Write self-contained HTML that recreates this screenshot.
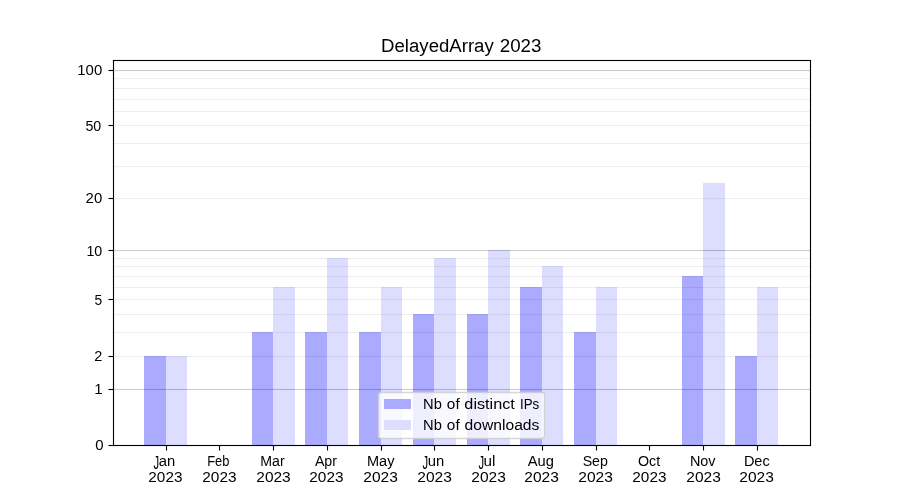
<!DOCTYPE html>
<html><head><meta charset="utf-8"><title>DelayedArray 2023</title>
<style>
html,body{margin:0;padding:0;background:#fff;}
body{width:900px;height:500px;overflow:hidden;}
svg{display:block;position:absolute;left:0;top:0;}
text{font-family:"Liberation Sans",sans-serif;fill:#000;}
</style></head><body>
<svg width="900" height="500" viewBox="0 0 900 500">
<rect x="0" y="0" width="900" height="500" fill="#ffffff"/>
<g shape-rendering="crispEdges">
<rect x="144" y="356" width="22" height="89" fill="#aaaaff"/>
<rect x="166" y="356" width="21" height="89" fill="#ddddff"/>
<rect x="252" y="332" width="21" height="113" fill="#aaaaff"/>
<rect x="273" y="287" width="22" height="158" fill="#ddddff"/>
<rect x="305" y="332" width="22" height="113" fill="#aaaaff"/>
<rect x="327" y="258" width="21" height="187" fill="#ddddff"/>
<rect x="359" y="332" width="22" height="113" fill="#aaaaff"/>
<rect x="381" y="287" width="21" height="158" fill="#ddddff"/>
<rect x="413" y="314" width="21" height="131" fill="#aaaaff"/>
<rect x="434" y="258" width="22" height="187" fill="#ddddff"/>
<rect x="467" y="314" width="21" height="131" fill="#aaaaff"/>
<rect x="488" y="250" width="22" height="195" fill="#ddddff"/>
<rect x="520" y="287" width="22" height="158" fill="#aaaaff"/>
<rect x="542" y="266" width="21" height="179" fill="#ddddff"/>
<rect x="574" y="332" width="22" height="113" fill="#aaaaff"/>
<rect x="596" y="287" width="21" height="158" fill="#ddddff"/>
<rect x="682" y="276" width="21" height="169" fill="#aaaaff"/>
<rect x="703" y="183" width="22" height="262" fill="#ddddff"/>
<rect x="735" y="356" width="22" height="89" fill="#aaaaff"/>
<rect x="757" y="287" width="21" height="158" fill="#ddddff"/>
</g>
<g shape-rendering="crispEdges" fill="#000">
<rect x="114" y="356" width="696" height="1" fill-opacity="0.067"/>
<rect x="114" y="355" width="696" height="1" fill-opacity="0.0037"/>
<rect x="114" y="357" width="696" height="1" fill-opacity="0.0037"/>
<rect x="114" y="332" width="696" height="1" fill-opacity="0.067"/>
<rect x="114" y="331" width="696" height="1" fill-opacity="0.0037"/>
<rect x="114" y="333" width="696" height="1" fill-opacity="0.0037"/>
<rect x="114" y="314" width="696" height="1" fill-opacity="0.067"/>
<rect x="114" y="313" width="696" height="1" fill-opacity="0.0037"/>
<rect x="114" y="315" width="696" height="1" fill-opacity="0.0037"/>
<rect x="114" y="299" width="696" height="1" fill-opacity="0.067"/>
<rect x="114" y="298" width="696" height="1" fill-opacity="0.0037"/>
<rect x="114" y="300" width="696" height="1" fill-opacity="0.0037"/>
<rect x="114" y="287" width="696" height="1" fill-opacity="0.067"/>
<rect x="114" y="286" width="696" height="1" fill-opacity="0.0037"/>
<rect x="114" y="288" width="696" height="1" fill-opacity="0.0037"/>
<rect x="114" y="276" width="696" height="1" fill-opacity="0.067"/>
<rect x="114" y="275" width="696" height="1" fill-opacity="0.0037"/>
<rect x="114" y="277" width="696" height="1" fill-opacity="0.0037"/>
<rect x="114" y="266" width="696" height="1" fill-opacity="0.067"/>
<rect x="114" y="265" width="696" height="1" fill-opacity="0.0037"/>
<rect x="114" y="267" width="696" height="1" fill-opacity="0.0037"/>
<rect x="114" y="258" width="696" height="1" fill-opacity="0.067"/>
<rect x="114" y="257" width="696" height="1" fill-opacity="0.0037"/>
<rect x="114" y="259" width="696" height="1" fill-opacity="0.0037"/>
<rect x="114" y="198" width="696" height="1" fill-opacity="0.067"/>
<rect x="114" y="197" width="696" height="1" fill-opacity="0.0037"/>
<rect x="114" y="199" width="696" height="1" fill-opacity="0.0037"/>
<rect x="114" y="166" width="696" height="1" fill-opacity="0.067"/>
<rect x="114" y="165" width="696" height="1" fill-opacity="0.0037"/>
<rect x="114" y="167" width="696" height="1" fill-opacity="0.0037"/>
<rect x="114" y="143" width="696" height="1" fill-opacity="0.067"/>
<rect x="114" y="142" width="696" height="1" fill-opacity="0.0037"/>
<rect x="114" y="144" width="696" height="1" fill-opacity="0.0037"/>
<rect x="114" y="125" width="696" height="1" fill-opacity="0.067"/>
<rect x="114" y="124" width="696" height="1" fill-opacity="0.0037"/>
<rect x="114" y="126" width="696" height="1" fill-opacity="0.0037"/>
<rect x="114" y="111" width="696" height="1" fill-opacity="0.067"/>
<rect x="114" y="110" width="696" height="1" fill-opacity="0.0037"/>
<rect x="114" y="112" width="696" height="1" fill-opacity="0.0037"/>
<rect x="114" y="99" width="696" height="1" fill-opacity="0.067"/>
<rect x="114" y="98" width="696" height="1" fill-opacity="0.0037"/>
<rect x="114" y="100" width="696" height="1" fill-opacity="0.0037"/>
<rect x="114" y="88" width="696" height="1" fill-opacity="0.067"/>
<rect x="114" y="87" width="696" height="1" fill-opacity="0.0037"/>
<rect x="114" y="89" width="696" height="1" fill-opacity="0.0037"/>
<rect x="114" y="78" width="696" height="1" fill-opacity="0.067"/>
<rect x="114" y="77" width="696" height="1" fill-opacity="0.0037"/>
<rect x="114" y="79" width="696" height="1" fill-opacity="0.0037"/>
<rect x="114" y="389" width="696" height="1" fill-opacity="0.2"/>
<rect x="114" y="388" width="696" height="1" fill-opacity="0.0111"/>
<rect x="114" y="390" width="696" height="1" fill-opacity="0.0111"/>
<rect x="114" y="250" width="696" height="1" fill-opacity="0.2"/>
<rect x="114" y="249" width="696" height="1" fill-opacity="0.0111"/>
<rect x="114" y="251" width="696" height="1" fill-opacity="0.0111"/>
<rect x="114" y="70" width="696" height="1" fill-opacity="0.2"/>
<rect x="114" y="69" width="696" height="1" fill-opacity="0.0111"/>
<rect x="114" y="71" width="696" height="1" fill-opacity="0.0111"/>
</g>
<g fill="#000">
<rect x="108.5" y="444.9445" width="5" height="1.1111"/>
<rect x="108.5" y="388.9445" width="5" height="1.1111"/>
<rect x="108.5" y="355.9445" width="5" height="1.1111"/>
<rect x="108.5" y="298.9445" width="5" height="1.1111"/>
<rect x="108.5" y="249.9444" width="5" height="1.1111"/>
<rect x="108.5" y="197.9444" width="5" height="1.1111"/>
<rect x="108.5" y="124.9445" width="5" height="1.1111"/>
<rect x="108.5" y="69.9445" width="5" height="1.1111"/>
<rect x="165.9444" y="445.5" width="1.1111" height="5"/>
<rect x="218.9444" y="445.5" width="1.1111" height="5"/>
<rect x="272.9445" y="445.5" width="1.1111" height="5"/>
<rect x="326.9445" y="445.5" width="1.1111" height="5"/>
<rect x="380.9445" y="445.5" width="1.1111" height="5"/>
<rect x="433.9445" y="445.5" width="1.1111" height="5"/>
<rect x="487.9445" y="445.5" width="1.1111" height="5"/>
<rect x="541.9444" y="445.5" width="1.1111" height="5"/>
<rect x="595.9444" y="445.5" width="1.1111" height="5"/>
<rect x="648.9444" y="445.5" width="1.1111" height="5"/>
<rect x="702.9444" y="445.5" width="1.1111" height="5"/>
<rect x="756.9444" y="445.5" width="1.1111" height="5"/>
<rect x="112.9445" y="59.9445" width="1.1111" height="386.1111"/>
<rect x="809.9444" y="59.9445" width="1.1111" height="386.1111"/>
<rect x="112.9445" y="59.9445" width="698.1111" height="1.1111"/>
<rect x="112.9445" y="444.9445" width="698.1111" height="1.1111"/>
</g>
<path d="M381.2778,392.5 L541.7222,392.5 Q544.5,392.5 544.5,395.2778 L544.5,435.7222 Q544.5,438.5 541.7222,438.5 L381.2778,438.5 Q378.5,438.5 378.5,435.7222 L378.5,395.2778 Q378.5,392.5 381.2778,392.5 Z" fill="#ffffff" fill-opacity="0.8" stroke="#cccccc" stroke-opacity="0.8" stroke-width="1.389" stroke-linejoin="miter"/>
<g shape-rendering="crispEdges"><rect x="384" y="399" width="27" height="10" fill="#aaaaff"/><rect x="384" y="420" width="27" height="10" fill="#ddddff"/></g>
<defs><filter id="gs" filterUnits="userSpaceOnUse" x="0" y="0" width="900" height="500" color-interpolation-filters="sRGB"><feOffset dx="0" dy="0"/></filter></defs>
<g id="txt" filter="url(#gs)">
<text id="leg1w0" x="423.05" y="409.25" font-size="14.7" text-anchor="start" textLength="18.78" lengthAdjust="spacingAndGlyphs">Nb</text>
<text id="leg1w1" x="446.89" y="408.50" font-size="14.7" text-anchor="start" textLength="12.75" lengthAdjust="spacingAndGlyphs">of</text>
<text id="leg1w2" x="464.39" y="408.50" font-size="14.7" text-anchor="start" textLength="50.47" lengthAdjust="spacingAndGlyphs">distinct</text>
<text id="leg1w3" x="519.95" y="409.49" font-size="14.7" text-anchor="start" textLength="19.23" lengthAdjust="spacingAndGlyphs">IPs</text>
<text id="leg2w0" x="423.05" y="430.25" font-size="14.7" text-anchor="start" textLength="18.78" lengthAdjust="spacingAndGlyphs">Nb</text>
<text id="leg2w1" x="446.89" y="429.50" font-size="14.7" text-anchor="start" textLength="12.75" lengthAdjust="spacingAndGlyphs">of</text>
<text id="leg2w2" x="464.64" y="429.50" font-size="14.7" text-anchor="start" textLength="74.73" lengthAdjust="spacingAndGlyphs">downloads</text>
<text id="titlew0" x="381.10" y="51.60" font-size="19.2" text-anchor="start" textLength="112.66" lengthAdjust="spacingAndGlyphs">DelayedArray</text>
<text id="titlew1" x="499.75" y="51.60" font-size="19.2" text-anchor="start" textLength="41.64" lengthAdjust="spacingAndGlyphs">2023</text>
<text id="y0" x="103.71" y="450.10" font-size="14.5" text-anchor="end" textLength="8.34" lengthAdjust="spacingAndGlyphs">0</text>
<text id="y1" x="102.71" y="394.10" font-size="14.5" text-anchor="end" textLength="8.39" lengthAdjust="spacingAndGlyphs">1</text>
<text id="y2" x="102.42" y="361.10" font-size="14.5" text-anchor="end" textLength="8.10" lengthAdjust="spacingAndGlyphs">2</text>
<text id="y5" x="102.28" y="304.60" font-size="14.5" text-anchor="end" textLength="7.66" lengthAdjust="spacingAndGlyphs">5</text>
<text id="y10" x="102.28" y="255.60" font-size="14.5" text-anchor="end" textLength="15.81" lengthAdjust="spacingAndGlyphs">10</text>
<text id="y20" x="102.21" y="203.10" font-size="14.5" text-anchor="end" textLength="16.59" lengthAdjust="spacingAndGlyphs">20</text>
<text id="y50" x="101.30" y="130.60" font-size="14.5" text-anchor="end" textLength="15.84" lengthAdjust="spacingAndGlyphs">50</text>
<text id="y100" x="102.23" y="75.10" font-size="14.5" text-anchor="end" textLength="24.92" lengthAdjust="spacingAndGlyphs">100</text>
<text id="m0j0" x="153.50" y="468.60" font-size="19.0" text-anchor="start" textLength="5.60" lengthAdjust="spacingAndGlyphs">J</text>
<text id="m0j1" x="158.82" y="465.55" font-size="14.9" text-anchor="start" textLength="16.47" lengthAdjust="spacingAndGlyphs">an</text>
<text id="yr0" x="165.40" y="482.40" font-size="14.5" text-anchor="middle" textLength="34.06" lengthAdjust="spacingAndGlyphs">2023</text>
<text id="m1" x="218.23" y="466.30" font-size="14.9" text-anchor="middle" textLength="22.21" lengthAdjust="spacingAndGlyphs">Feb</text>
<text id="yr1" x="219.44" y="481.65" font-size="14.5" text-anchor="middle" textLength="34.27" lengthAdjust="spacingAndGlyphs">2023</text>
<text id="m2" x="272.44" y="466.05" font-size="14.9" text-anchor="middle" textLength="24.40" lengthAdjust="spacingAndGlyphs">Mar</text>
<text id="yr2" x="273.49" y="482.15" font-size="14.5" text-anchor="middle" textLength="34.40" lengthAdjust="spacingAndGlyphs">2023</text>
<text id="m3" x="325.93" y="465.80" font-size="14.9" text-anchor="middle" textLength="22.09" lengthAdjust="spacingAndGlyphs">Apr</text>
<text id="yr3" x="326.41" y="482.40" font-size="14.5" text-anchor="middle" textLength="34.11" lengthAdjust="spacingAndGlyphs">2023</text>
<text id="m4" x="380.72" y="465.80" font-size="14.9" text-anchor="middle" textLength="27.45" lengthAdjust="spacingAndGlyphs">May</text>
<text id="yr4" x="380.58" y="481.90" font-size="14.5" text-anchor="middle" textLength="34.57" lengthAdjust="spacingAndGlyphs">2023</text>
<text id="m5j0" x="422.50" y="468.60" font-size="19.0" text-anchor="start" textLength="5.60" lengthAdjust="spacingAndGlyphs">J</text>
<text id="m5j1" x="427.70" y="465.55" font-size="14.9" text-anchor="start" textLength="16.47" lengthAdjust="spacingAndGlyphs">un</text>
<text id="yr5" x="434.58" y="482.15" font-size="14.5" text-anchor="middle" textLength="34.54" lengthAdjust="spacingAndGlyphs">2023</text>
<text id="m6j0" x="478.50" y="468.60" font-size="19.0" text-anchor="start" textLength="5.60" lengthAdjust="spacingAndGlyphs">J</text>
<text id="m6j1" x="483.45" y="465.80" font-size="14.9" text-anchor="start" textLength="11.84" lengthAdjust="spacingAndGlyphs">ul</text>
<text id="yr6" x="488.62" y="481.90" font-size="14.5" text-anchor="middle" textLength="34.50" lengthAdjust="spacingAndGlyphs">2023</text>
<text id="m7" x="540.81" y="466.05" font-size="14.9" text-anchor="middle" textLength="26.13" lengthAdjust="spacingAndGlyphs">Aug</text>
<text id="yr7" x="541.55" y="481.65" font-size="14.5" text-anchor="middle" textLength="34.46" lengthAdjust="spacingAndGlyphs">2023</text>
<text id="m8" x="595.29" y="466.30" font-size="14.9" text-anchor="middle" textLength="25.24" lengthAdjust="spacingAndGlyphs">Sep</text>
<text id="yr8" x="595.59" y="481.65" font-size="14.5" text-anchor="middle" textLength="34.62" lengthAdjust="spacingAndGlyphs">2023</text>
<text id="m9" x="649.08" y="465.80" font-size="14.9" text-anchor="middle" textLength="22.21" lengthAdjust="spacingAndGlyphs">Oct</text>
<text id="yr9" x="649.40" y="481.90" font-size="14.5" text-anchor="middle" textLength="34.14" lengthAdjust="spacingAndGlyphs">2023</text>
<text id="m10" x="702.69" y="465.55" font-size="14.9" text-anchor="middle" textLength="25.62" lengthAdjust="spacingAndGlyphs">Nov</text>
<text id="yr10" x="703.56" y="482.40" font-size="14.5" text-anchor="middle" textLength="34.49" lengthAdjust="spacingAndGlyphs">2023</text>
<text id="m11" x="756.80" y="465.80" font-size="14.9" text-anchor="middle" textLength="25.80" lengthAdjust="spacingAndGlyphs">Dec</text>
<text id="yr11" x="756.62" y="482.40" font-size="14.5" text-anchor="middle" textLength="34.56" lengthAdjust="spacingAndGlyphs">2023</text>
</g>
</svg></body></html>
